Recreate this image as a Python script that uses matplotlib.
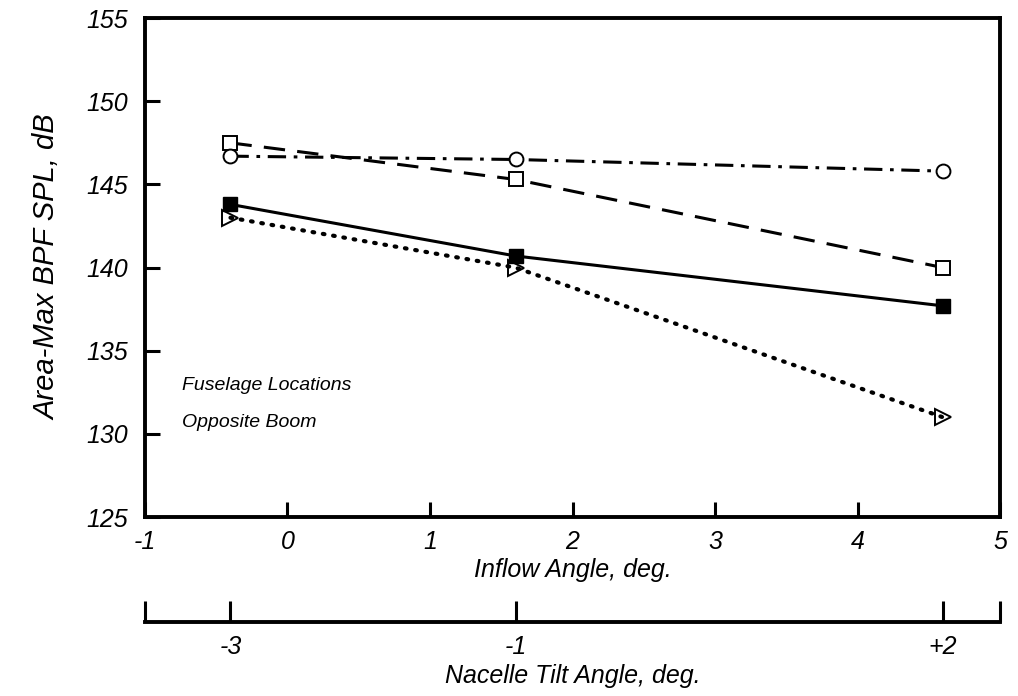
import matplotlib
matplotlib.use("Agg")
import matplotlib.pyplot as plt

plt.rcParams['font.family'] = ['Liberation Sans', 'DejaVu Sans']
plt.rcParams['font.style'] = 'italic'

# data
inflow = [-0.4, 1.6, 4.6]
tilt_labels = ['-3', '-1', '+2']
filled_sq = [143.8, 140.7, 137.7]
open_sq = [147.5, 145.3, 140.0]
open_circ = [146.7, 146.5, 145.8]
open_tri = [143.0, 140.0, 131.0]

x_ticks = [-1, 0, 1, 2, 3, 4, 5]
y_ticks = [125, 130, 135, 140, 145, 150, 155]

fig = plt.figure(figsize=(10.18, 6.96), dpi=100)
ax = fig.add_axes([0.1424, 0.257, 0.840, 0.717])

ax.plot(inflow, filled_sq, '-', color='black', lw=2.2,
        marker='s', ms=10, mfc='black', mec='black', zorder=3)
ax.plot(inflow, open_sq, color='black', lw=2.2, dashes=(7, 4),
        marker='s', ms=10, mfc='white', mec='black', mew=1.4, zorder=3)
ax.plot(inflow, open_circ, color='black', lw=2.2, dashes=(6, 2.5, 1.2, 2.5),
        marker='o', ms=10, mfc='white', mec='black', mew=1.4, zorder=3)
ax.plot(inflow, open_tri, color='black', lw=3.0, linestyle=(0, (0.4, 2.1)),
        dash_capstyle='round',
        marker='>', ms=11, mfc='none', mec='black', mew=1.4, zorder=3)

ax.set_xlim(-1, 5)
ax.set_ylim(125, 155)
ax.set_xticks(x_ticks)
ax.set_yticks(y_ticks)
ax.set_xticklabels([str(v) for v in x_ticks])
ax.tick_params(direction='in', length=11, width=2.2, labelsize=18, pad=9)
ax.tick_params(axis='y', pad=12)
for s in ax.spines.values():
    s.set_linewidth(2.8)

ax.set_xlabel('Inflow Angle, deg.', fontsize=18, labelpad=3)
ax.set_ylabel('Area-Max BPF SPL, dB', fontsize=21, labelpad=18)

ax.text(-0.74, 132.9, 'Fuselage Locations', fontsize=14, va='center')
ax.text(-0.74, 130.7, 'Opposite Boom', fontsize=14, va='center')

# second scale: nacelle tilt angle
ax2 = fig.add_axes([0.1424, 0.106, 0.840, 0.0001])
ax2.set_xlim(-1, 5)
ax2.set_ylim(0, 1)
for k in ['top', 'left', 'right']:
    ax2.spines[k].set_visible(False)
ax2.spines['bottom'].set_linewidth(2.8)
ax2.set_yticks([])
ax2.set_xticks(inflow + [-1, 5])
ax2.set_xticklabels(tilt_labels + ['', ''])
ax2.tick_params(axis='x', direction='in', length=15, width=2.2, labelsize=18, pad=9)
ax2.set_xlabel('Nacelle Tilt Angle, deg.', fontsize=18, labelpad=4)
ax2.patch.set_visible(False)

fig.savefig('out.png', dpi=100)
